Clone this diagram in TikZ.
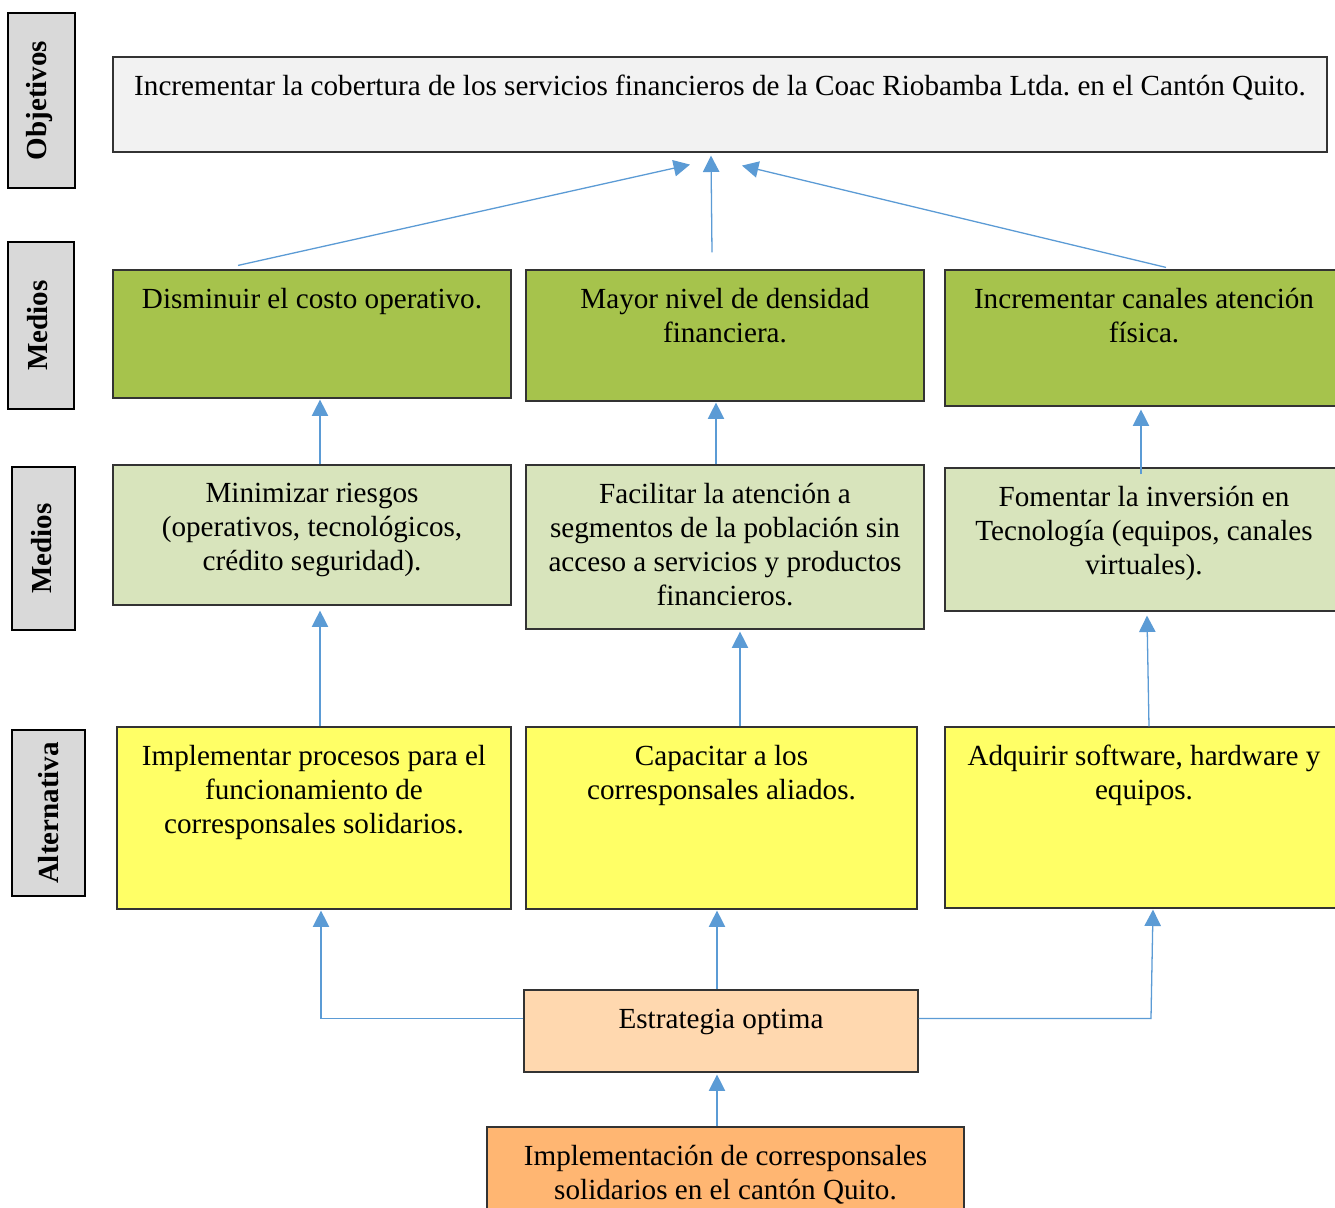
\documentclass[tikz,border=0pt]{standalone}
\usepackage{fontspec}
\setmainfont{Liberation Serif}
\usetikzlibrary{fit,calc,arrows.meta}
\frenchspacing
\definecolor{lblgray}{HTML}{D9D9D9}
\definecolor{objfill}{HTML}{F2F2F2}
\definecolor{darkgreen}{HTML}{A6C34C}
\definecolor{lightgreen}{HTML}{D8E4BC}
\definecolor{yel}{HTML}{FFFF66}
\definecolor{peach}{HTML}{FFD8AF}
\definecolor{orng}{HTML}{FFB672}
\definecolor{arrblue}{HTML}{5B9BD5}
\begin{document}
\begin{tikzpicture}[x=0.427pt,y=-0.427pt,
  box/.style={draw=black!80, line width=0.5pt, inner sep=0pt},
  lbl/.style={draw=black, fill=lblgray, inner sep=0pt, line width=1.2pt},
  lbltxt/.style={rotate=90, inner sep=0pt, font=\bfseries\fontsize{12.4}{14}\selectfont},
  txt/.style={anchor=north, inner sep=0pt, align=center, font=\fontsize{12.45}{14.5}\selectfont},
  arr/.style={draw=arrblue, line width=0.55pt, -{Triangle[width=7pt,length=7pt]}}]
\clip (0,0) rectangle (1335,1207);
\fill[white] (0,0) rectangle (1335,1207);

% row labels on the left
\node[lbl, fit={(8,13) (75,188)}] (lobj) {};
\node[lbltxt] (lobjt) at ([shift={(-2,0)}]lobj.center) {Objetivos};
\node[lbl, fit={(8,242) (74,409)}] (lmed1) {};
\node[lbltxt] (lmed1t) at ([shift={(-3,0)}]lmed1.center) {Medios};
\node[lbl, fit={(12,467) (75,630)}] (lmed2) {};
\node[lbltxt] (lmed2t) at ([shift={(-2,0)}]lmed2.center) {Medios};
\node[lbl, line width=0.6pt, fit={(12,730) (85,896)}] (lalt) {};
\node[lbltxt] (laltt) at (lalt.center) {Alternativa};

% objective
\node[box, fill=objfill, fit={(113,57) (1327,152)}] (obj) {};
\node[txt] (objt) at ($(obj.north)+(0,18)$) {Incrementar la cobertura de los servicios financieros de la Coac Riobamba Ltda. en el Cantón Quito.};

% first level of means
\node[box, fill=darkgreen, fit={(113,270) (511,398)}] (m1) {};
\node[txt] (m1t) at ($(m1.north)+(0,18)$) {Disminuir el costo operativo.};
\node[box, fill=darkgreen, fit={(526,270) (924,401)}] (m2) {};
\node[txt] (m2t) at ($(m2.north)+(0,18)$) {Mayor nivel de densidad\\financiera.};
\node[box, fill=darkgreen, fit={(945,270) (1343,406)}] (m3) {};
\node[txt] (m3t) at ($(m3.north)+(0,18)$) {Incrementar canales atención\\física.};

% second level of means
\node[box, fill=lightgreen, fit={(113,465) (511,605)}] (r1) {};
\node[txt] (r1t) at ($(r1.north)+(0,18)$) {Minimizar riesgos\\(operativos, tecnológicos,\\crédito seguridad).};
\node[box, fill=lightgreen, fit={(526,465) (924,629)}] (r2) {};
\node[txt] (r2t) at ($(r2.north)+(0,18)$) {Facilitar la atención a\\segmentos de la población sin\\acceso a servicios y productos\\financieros.};
\node[box, fill=lightgreen, fit={(945,468) (1343,611)}] (r3) {};
\node[txt] (r3t) at ($(r3.north)+(0,18)$) {Fomentar la inversión en\\Tecnología (equipos, canales\\virtuales).};

% alternatives
\node[box, fill=yel, fit={(117,727) (511,909)}] (a1) {};
\node[txt] (a1t) at ($(a1.north)+(0,18)$) {Implementar procesos para el\\funcionamiento de\\corresponsales solidarios.};
\node[box, fill=yel, fit={(526,727) (917,909)}] (a2) {};
\node[txt] (a2t) at ($(a2.north)+(0,18)$) {Capacitar a los\\corresponsales aliados.};
\node[box, fill=yel, fit={(945,727) (1343,908)}] (a3) {};
\node[txt] (a3t) at ($(a3.north)+(0,18)$) {Adquirir software, hardware y\\equipos.};

% strategy and project
\node[box, fill=peach, fit={(524,990) (918,1072)}] (es) {};
\node[txt] (est) at ($(es.north)+(0,19)$) {Estrategia optima};
\node[box, fill=orng, fit={(487,1127) (964,1220)}] (bt) {};
\node[txt] (btt) at ($(bt.north)+(0,18)$) {Implementación de corresponsales\\solidarios en el cantón Quito.};

% means towards the objective
\draw[arr] ([shift={(-74,-4)}]m1.north) -- ([shift={(-30,12)}]obj.south);
\draw[arr] ([shift={(-13,-17)}]m2.north) -- ([shift={(-9,3)}]obj.south);
\draw[arr] ([shift={(22,-2)}]m3.north) -- ([shift={(22,13)}]obj.south);

% second level towards first level
\draw[arr] ([shift={(8,0)}]r1.north) -- ([shift={(8,1)}]m1.south);
\draw[arr] ([shift={(-9,0)}]r2.north) -- ([shift={(-9,1)}]m2.south);
\draw[arr] ([shift={(-3,7)}]r3.north) -- ([shift={(-3,3)}]m3.south);

% alternatives towards second level
\draw[arr] ([shift={(6,0)}]a1.north) -- ([shift={(8,5)}]r1.south);
\draw[arr] ([shift={(18.5,0)}]a2.north) -- ([shift={(15,2)}]r2.south);
\draw[arr] ([shift={(5,0)}]a3.north) -- ([shift={(3,4)}]r3.south);

% strategy towards alternatives
\coordinate (esl) at ([shift={(0,29)}]es.north west);
\coordinate (esr) at ([shift={(0,29)}]es.north east);
\coordinate (ecr) at ([shift={(7,0)}]a3.south |- esr);
\draw[arr] (esl) -| ([shift={(7,1)}]a1.south);
\draw[arr] ([shift={(-4,0)}]es.north) -- ([shift={(-4.5,1)}]a2.south);
\draw[arr] (esr) -- (ecr) -- ([shift={(9,1)}]a3.south);

% project towards strategy
\draw[arr] ([shift={(-8.5,0)}]bt.north) -- ([shift={(-4,2)}]es.south);
\end{tikzpicture}
\end{document}
